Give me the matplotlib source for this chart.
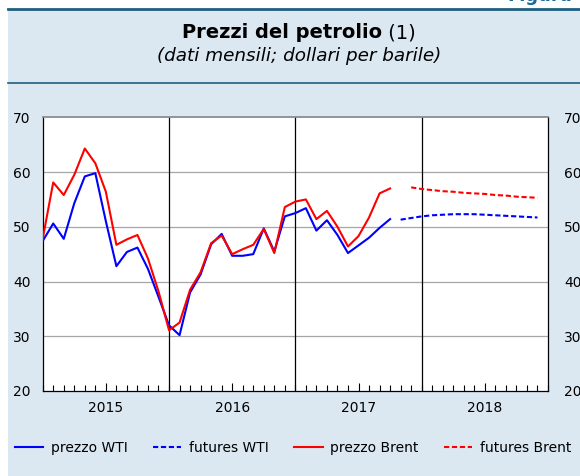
import numpy as np
import matplotlib
matplotlib.use("Agg")
import matplotlib.pyplot as plt
from matplotlib.lines import Line2D
from matplotlib.patches import Rectangle

plt.rcParams['font.family'] = ['DejaVu Sans']

# ---- data (monthly, Jan 2015 = index 0) ----
wti_price = [47.4, 50.6, 47.8, 54.3, 59.2, 59.8, 51.0, 42.8, 45.4, 46.2, 42.3, 37.2,
             32.0, 30.2, 38.0, 41.3, 46.8, 48.7, 44.7, 44.7, 45.0, 49.7, 45.5, 51.9,
             52.5, 53.4, 49.3, 51.2, 48.5, 45.2, 46.6, 48.0, 49.8, 51.4]
brent_price = [47.8, 58.1, 55.8, 59.5, 64.3, 61.6, 56.4, 46.7, 47.7, 48.5, 44.2, 38.2,
               31.1, 32.5, 38.5, 41.7, 47.0, 48.4, 45.0, 45.9, 46.7, 49.6, 45.2, 53.6,
               54.6, 55.0, 51.4, 52.9, 50.0, 46.4, 48.3, 51.7, 56.1, 57.0]
wti_futures = [51.3, 51.6, 51.9, 52.1, 52.2, 52.3, 52.3, 52.3, 52.2, 52.1, 52.0, 51.9, 51.8, 51.7]
wti_futures_start = 34      # Nov 2017
brent_futures = [57.2, 56.9, 56.7, 56.5, 56.4, 56.2, 56.1, 56.0, 55.8, 55.7, 55.5, 55.4, 55.3]
brent_futures_start = 35    # Dec 2017
years = ["2015", "2016", "2017", "2018"]
yticks = [20, 30, 40, 50, 60, 70]

W, H = 580, 476
fig = plt.figure(figsize=(W / 100, H / 100), dpi=100)
fig.patch.set_facecolor('white')

bg = '#dce8f1'
teal = '#1e5f80'
fig.add_artist(Rectangle((8 / W, 0), 1 - 8 / W, 1 - 9 / H, transform=fig.transFigure,
                         facecolor=bg, edgecolor='none', zorder=-10))
fig.add_artist(Line2D([8 / W, 1], [1 - 8.6 / H, 1 - 8.6 / H], transform=fig.transFigure,
                      color=teal, lw=2.0, zorder=-5))
fig.add_artist(Line2D([8 / W, 1], [1 - 82.5 / H, 1 - 82.5 / H], transform=fig.transFigure,
                      color=teal, lw=1.2, zorder=-5))
fig.text(507 / W, 1 - 1.2 / H, "Figura", color='#1a6a96', fontsize=13, fontweight='bold',
         ha='left', va='baseline')

# title (bold part + regular "(1)", centred together)
renderer = fig.canvas.get_renderer()
t_bold = fig.text(0, 1 - 38.3 / H, "Prezzi del petrolio", fontsize=14, fontweight='bold',
                  ha='left', va='baseline')
t_reg = fig.text(0, 1 - 38.3 / H, " (1)", fontsize=14, ha='left', va='baseline')
wb = t_bold.get_window_extent(renderer).width
wr = t_reg.get_window_extent(renderer).width
x0 = 299 - (wb + wr) / 2
t_bold.set_x(x0 / W)
t_reg.set_x((x0 + wb) / W)
fig.text(299 / W, 1 - 56 / H, "(dati mensili; dollari per barile)", fontsize=13.2,
         style='italic', ha='center', va='center')

ax = fig.add_axes([42.7 / W, 1 - 391 / H, (548 - 42.7) / W, (391 - 117.3) / H])
ax.set_facecolor('white')
n_months = 12 * len(years)
ax.set_xlim(0, n_months)
ax.set_ylim(yticks[0], yticks[-1])

x_p = np.arange(len(wti_price))
l1, = ax.plot(x_p, wti_price, color='#0000ff', lw=1.5, zorder=4, label='prezzo WTI')
l3, = ax.plot(x_p, brent_price, color='#ff0000', lw=1.5, zorder=5, label='prezzo Brent')
x_wf = np.arange(wti_futures_start, wti_futures_start + len(wti_futures))
x_bf = np.arange(brent_futures_start, brent_futures_start + len(brent_futures))
l2, = ax.plot(x_wf, wti_futures, color='#0000ff', lw=1.5, ls=(0, (2.5, 1.3)), zorder=4,
              label='futures WTI')
l4, = ax.plot(x_bf, brent_futures, color='#ff0000', lw=1.5, ls=(0, (2.5, 1.3)), zorder=5,
              label='futures Brent')

# grid & year separators
for v in yticks[1:-1]:
    ax.axhline(v, color='#a6a6a6', lw=0.9, zorder=1)
for k in range(1, len(years)):
    ax.axvline(12 * k, color='black', lw=0.9, zorder=2)

for s in ['left', 'right', 'bottom']:
    ax.spines[s].set_color('black')
    ax.spines[s].set_linewidth(0.9)
ax.spines['top'].set_color('#8c8c8c')
ax.spines['top'].set_linewidth(1.3)

ax.set_xticks([12 * k + 6 for k in range(len(years))])
ax.set_xticklabels(years)
ax.set_xticks(np.arange(0, n_months + 1), minor=True)
ax.tick_params(axis='x', which='major', direction='in', length=6, width=0.8, pad=7.5,
               labelsize=10, top=False)
ax.tick_params(axis='x', which='minor', direction='in', length=4, width=0.8, top=False)

ax.set_yticks(yticks)
ax.tick_params(axis='y', which='both', left=False, right=False, length=0, labelsize=10,
               pad=8.6)
ax2 = ax.twinx()
ax2.set_ylim(ax.get_ylim())
ax2.set_yticks(yticks)
ax2.tick_params(axis='y', which='both', left=False, right=False, length=0, labelsize=10,
                pad=11.5)
for s in ax2.spines.values():
    s.set_visible(False)

fig.legend(handles=[l1, l2, l3, l4], loc='center left',
           bbox_to_anchor=(15 / W, 1 - 447.7 / H), ncol=4, frameon=False,
           fontsize=10, handlelength=2.04, handletextpad=0.53, columnspacing=1.85,
           borderpad=0, borderaxespad=0)

fig.savefig('out.png', dpi=100)
